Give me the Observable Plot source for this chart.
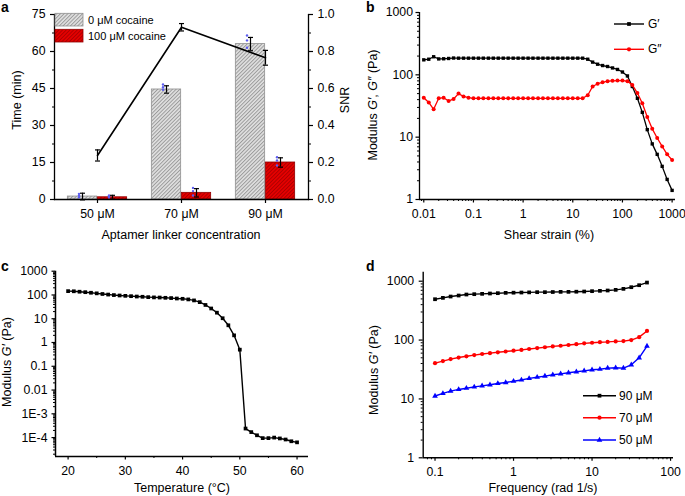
<!DOCTYPE html>
<html><head><meta charset="utf-8">
<script src="https://cdn.jsdelivr.net/npm/d3@7"></script>
<script src="https://cdn.jsdelivr.net/npm/@observablehq/plot@0.6"></script>
<style>
body{margin:0;background:#fff;}
#root{position:relative;width:685px;height:496px;overflow:hidden;background:#fff;}
</style></head><body><div id="root"></div>
<script>
// ---------------- DATA ----------------
// Panel a
const concentrations = ["50 μM", "70 μM", "90 μM"];
const cocaineGroups = ["0 μM cocaine", "100 μM cocaine"];
const timeNoCocaine = [1.2, 44.6, 63.0];
const timeNoCocaineErr = [1.35, 1.5, 2.7];
const timeCocaine = [0.9, 2.7, 15.0];
const timeCocaineErr = [0.8, 1.7, 1.9];
const dotsNoCocaine = [[2.3, 1.6, 0.9], [46.6, 45.5, 44.5], [66.5, 64.5, 61.5]];
const dotsCocaine = [[1.6, 1.2, 0.8], [4.7, 3.4, 1.6], [17.1, 15.8, 13.8]];
const snr = [0.238, 0.931, 0.766];
const snrErr = [0.03, 0.02, 0.04];
const aYTicks = [0, 15, 30, 45, 60, 75];
const aYMinor = [7.5, 22.5, 37.5, 52.5, 67.5];
const snrTicks = [0, 0.2, 0.4, 0.6, 0.8, 1.0];
const snrMinor = [0.1, 0.3, 0.5, 0.7, 0.9];

// Panel b
const strain = [0.01,0.0126,0.0158,0.02,0.0251,0.0316,0.0398,0.0501,0.0631,0.0794,
  0.1,0.126,0.158,0.2,0.251,0.316,0.398,0.501,0.631,0.794,
  1,1.26,1.58,2,2.51,3.16,3.98,5.01,6.31,7.94,
  10,12.6,15.8,20,25.1,31.6,39.8,50.1,63.1,79.4,
  100,126,158,200,251,316,398,501,631,794,1000];
const gPrime = [174,178,195,180,181,183,186,185,185,185,
  185,185,185,185,185,185,185,185,185,185,
  185,185,185,185,185,185,185,185,185,185,
  185,185,185,178,160,148,141,136,129,122,
  111,96,65,42,25,13.2,7.8,5.3,3.4,2.1,1.4];
const gDoublePrime = [43,36,28,42,43,38,41,50,45,43,
  42,42,42,42,42,42,42,42,42,42,
  42,42,42,42,42,42,42,42,42,42,
  42,42,42,47,65,72,76,79,80,81,
  81,79,69,51,35,21,13.6,9.7,7.1,5.3,4.3];
const bXTicks = [0.01, 0.1, 1, 10, 100, 1000];
const bYTicks = [1, 10, 100, 1000];

// Panel c
const temperature = [20,21,22,23,24,25,26,27,28,29,30,31,32,33,34,35,36,37,38,39,40,
  41,42,43,44,45,46,47,48,49,50,51,52,53,54,55,56,57,58,59,60];
const gPrimeTemp = [145,143,137,131,124,117,110,104,99,95,92,89,86,84,81,79,78,76,74,71,69,
  65,59,50,38,27,18,10.5,5.3,2.0,0.5,2.4e-4,1.7e-4,1.25e-4,9.5e-5,9.5e-5,1.0e-4,9.2e-5,8.3e-5,7.0e-5,6.3e-5];
const cXTicks = [20, 30, 40, 50, 60];
const cXMinor = [25, 35, 45, 55];
const cYTicks = [1e-4, 1e-3, 0.01, 0.1, 1, 10, 100, 1000];
const cYTickLabels = ["1E-4", "1E-3", "0.01", "0.1", "1", "10", "100", "1000"];

// Panel d
const frequency = [0.1,0.126,0.158,0.2,0.251,0.316,0.398,0.501,0.631,0.794,
  1,1.26,1.58,2,2.51,3.16,3.98,5.01,6.31,7.94,
  10,12.6,15.8,20,25.1,31.6,39.8,50.1];
const g90 = [494,521,549,571,594,602,610,618,626,634,638,642,646,651,651,655,659,659,663,668,677,686,695,713,741,791,855,948];
const g70 = [40.5,44,47.5,50.5,53,55.5,58,60,62,64,66,68,70.5,73,75.5,78,80,82.5,85,88,90,92,93,95,96,100,112,143];
const g50 = [11.2,12.4,13.6,14.5,15.2,16,16.7,17.4,18.3,19,20,21,22.3,23.4,24.4,25.7,26.7,27.8,28.9,30,31.3,32,33.4,33.8,33.4,38,50,79];
const dSeries = ["90 μM", "70 μM", "50 μM"];
const dXTicks = [0.1, 1, 10, 100];
const dYTicks = [1, 10, 100, 1000];

// ---------------- STYLE ----------------
const FONT = '"Liberation Sans", Arial, Helvetica, sans-serif';
const root = document.getElementById("root");
const baseStyle = {fontFamily: FONT, fontSize: "12.3px", background: "transparent", color: "#000", overflow: "visible"};
const RED = "#ff0000", BLUE = "#0000ff";
function logMinor(lo, hi, dmin, dmax) {
  const out = [];
  for (let e = lo; e <= hi; e++) for (let k = 2; k < 10; k++) { const v = k * Math.pow(10, e); if (v >= dmin && v <= dmax) out.push(v); }
  return out;
}
function mount(svg, left, top) {
  svg.style.position = "absolute"; svg.style.left = left + "px"; svg.style.top = top + "px";
  root.appendChild(svg); return svg;
}
const capSymbol = {draw(ctx, size) { const r = Math.sqrt(size / Math.PI); ctx.moveTo(-r, 0); ctx.lineTo(r, 0); }};
const fmt = d3.format("~g");
function labelFrom(ticks, labels) {
  return d => {
    const k = ticks.findIndex(t => Math.abs(Math.log10(t) - Math.log10(d)) < 1e-6);
    return k >= 0 ? labels[k] : "";
  };
}

// ---------------- PANEL A ----------------
const A = {width: 342, height: 248, mL: 54, mR: 34, mT: 14, mB: 49};
const bw = (A.width - A.mL - A.mR) / concentrations.length;
const barW = 30;
const aRows0 = concentrations.map((c, i) => ({conc: c, time: timeNoCocaine[i], err: timeNoCocaineErr[i]}));
const aRows1 = concentrations.map((c, i) => ({conc: c, time: timeCocaine[i], err: timeCocaineErr[i]}));
const aDots0 = concentrations.flatMap((c, i) => dotsNoCocaine[i].map(v => ({conc: c, v})));
const aDots1 = concentrations.flatMap((c, i) => dotsCocaine[i].map(v => ({conc: c, v})));
const snrRows = concentrations.map((c, i) => ({conc: c, snr: snr[i], err: snrErr[i]}));

function errMarks(rows, yKey, dx) {
  return [
    Plot.ruleX(rows, {x: "conc", y1: d => d[yKey] - d.err, y2: d => d[yKey] + d.err, dx, stroke: "black", strokeWidth: 1.2}),
    Plot.dot(rows, {x: "conc", y: d => d[yKey] - d.err, symbol: capSymbol, r: 2.5, stroke: "black", fill: "none", strokeWidth: 1.2, dx}),
    Plot.dot(rows, {x: "conc", y: d => d[yKey] + d.err, symbol: capSymbol, r: 2.5, stroke: "black", fill: "none", strokeWidth: 1.2, dx})
  ];
}

const svgA1 = Plot.plot({
  width: A.width, height: A.height, marginLeft: A.mL, marginRight: A.mR, marginTop: A.mT, marginBottom: A.mB,
  style: baseStyle,
  x: {type: "band", domain: concentrations, padding: 0},
  y: {domain: [0, 75]},
  marks: [
    Plot.barY(aRows0, {x: "conc", y: "time", fill: "url(#hatchGray)", stroke: "#8f8f8f", strokeWidth: 0.8, insetLeft: bw / 2 - barW, insetRight: bw / 2}),
    Plot.barY(aRows1, {x: "conc", y: "time", fill: "url(#hatchRed)", stroke: "#900000", strokeWidth: 0.8, insetLeft: bw / 2, insetRight: bw / 2 - barW}),
    Plot.dot(aDots0, {x: "conc", y: "v", r: 1.2, fill: "#5c5cf0", dx: -barW / 2 - 3.5}),
    Plot.dot(aDots1, {x: "conc", y: "v", r: 1.2, fill: "#5c5cf0", dx: barW / 2 - 3.5}),
    ...errMarks(aRows0, "time", -barW / 2),
    ...errMarks(aRows1, "time", barW / 2),
    Plot.axisY({ticks: aYTicks, tickSize: 4, tickPadding: 5, label: null, strokeWidth: 1.2}),
    Plot.axisY({ticks: aYMinor, tickSize: 2, tickFormat: () => "", label: null, strokeWidth: 1.2}),
    Plot.axisX({tickSize: 4, tickPadding: 6, label: null, strokeWidth: 1.2}),
    Plot.frame({anchor: "left", strokeWidth: 1.3}),
    Plot.frame({anchor: "bottom", strokeWidth: 1.3})
  ]
});
d3.select(svgA1).insert("defs", ":first-child").html(`
  <pattern id="hatchGray" patternUnits="userSpaceOnUse" width="2.6" height="2.6" patternTransform="rotate(45)">
    <rect width="2.6" height="2.6" fill="#e0e0e0"></rect>
    <line x1="0.5" y1="0" x2="0.5" y2="2.6" stroke="#959595" stroke-width="0.9"></line>
  </pattern>
  <pattern id="hatchRed" patternUnits="userSpaceOnUse" width="2.6" height="2.6" patternTransform="rotate(45)">
    <rect width="2.6" height="2.6" fill="#e60000"></rect>
    <line x1="0.5" y1="0" x2="0.5" y2="2.6" stroke="#a00000" stroke-width="0.8"></line>
  </pattern>`);
mount(svgA1, 0, 0);

const svgA2 = Plot.plot({
  width: A.width, height: A.height, marginLeft: A.mL, marginRight: A.mR, marginTop: A.mT, marginBottom: A.mB,
  style: baseStyle,
  x: {type: "band", domain: concentrations, padding: 0, axis: null},
  y: {domain: [0, 1]},
  marks: [
    Plot.line(snrRows, {x: "conc", y: "snr", stroke: "black", strokeWidth: 1.6}),
    ...errMarks(snrRows, "snr", 0),
    Plot.axisY({anchor: "right", ticks: snrTicks, tickFormat: d3.format(".1f"), tickSize: 4, tickPadding: 5, label: null, strokeWidth: 1.2}),
    Plot.axisY({anchor: "right", ticks: snrMinor, tickSize: 2, tickFormat: () => "", label: null, strokeWidth: 1.2}),
    Plot.frame({anchor: "right", strokeWidth: 1.3})
  ]
});
mount(svgA2, 0, 0);

// ---------------- PANEL B ----------------
const bRows = strain.map((s, i) => ({strain: s, gp: gPrime[i], gpp: gDoublePrime[i]}));
const bXDom = [0.0082, 1170], bYDom = [1, 1000];
const svgB = Plot.plot({
  width: 343, height: 248, marginLeft: 77, marginRight: 10, marginTop: 12, marginBottom: 49,
  style: baseStyle,
  x: {type: "log", domain: bXDom},
  y: {type: "log", domain: bYDom},
  marks: [
    Plot.line(bRows, {x: "strain", y: "gp", stroke: "black", strokeWidth: 1.3}),
    Plot.dot(bRows, {x: "strain", y: "gp", symbol: "square", r: 1.9, fill: "black"}),
    Plot.line(bRows, {x: "strain", y: "gpp", stroke: RED, strokeWidth: 1.3}),
    Plot.dot(bRows, {x: "strain", y: "gpp", r: 2, fill: RED}),
    Plot.axisX({ticks: bXTicks, tickFormat: fmt, tickSize: 3.5, tickPadding: 6, label: null, strokeWidth: 1.2}),
    Plot.axisX({ticks: logMinor(-3, 3, bXDom[0], bXDom[1]), tickSize: 2, tickFormat: () => "", label: null}),
    Plot.axisY({ticks: bYTicks, tickFormat: fmt, tickSize: 3.5, tickPadding: 3, label: null, strokeWidth: 1.2}),
    Plot.axisY({ticks: logMinor(0, 2, bYDom[0], bYDom[1]), tickSize: 2, tickFormat: () => "", label: null}),
    Plot.ruleX([bXDom[0]], {strokeWidth: 1.3}),
    Plot.ruleY([bYDom[0]], {strokeWidth: 1.3})
  ]
});
mount(svgB, 342, 0);

// ---------------- PANEL C ----------------
const cRows = temperature.map((t, i) => ({t, g: gPrimeTemp[i]}));
const cXDom = [17.8, 62], cYDom = [1.6e-5, 1000];
const svgC = Plot.plot({
  width: 342, height: 248, marginLeft: 55, marginRight: 34, marginTop: 22.7, marginBottom: 40,
  style: baseStyle,
  x: {domain: cXDom},
  y: {type: "log", domain: cYDom},
  marks: [
    Plot.line(cRows, {x: "t", y: "g", stroke: "black", strokeWidth: 1.4}),
    Plot.dot(cRows, {x: "t", y: "g", symbol: "square", r: 2.1, fill: "black"}),
    Plot.axisX({ticks: cXTicks, tickSize: 3.5, tickPadding: 6, label: null, strokeWidth: 1.2}),
    Plot.axisX({ticks: cXMinor, tickSize: 2, tickFormat: () => "", label: null}),
    Plot.axisY({ticks: cYTicks, tickFormat: labelFrom(cYTicks, cYTickLabels), tickSize: 3.5, tickPadding: 4.5, label: null, strokeWidth: 1.2}),
    Plot.axisY({ticks: logMinor(-5, 2, cYDom[0], cYDom[1]), tickSize: 2, tickFormat: () => "", label: null}),
    Plot.ruleX([cXDom[0]], {strokeWidth: 1.5}),
    Plot.ruleY([cYDom[0]], {strokeWidth: 1.3})
  ]
});
mount(svgC, 0, 248);

// ---------------- PANEL D ----------------
const dRows = frequency.flatMap((f, i) => [
  {f, g: g90[i], s: dSeries[0]}, {f, g: g70[i], s: dSeries[1]}, {f, g: g50[i], s: dSeries[2]}]);
const dXDom = [0.0707, 109], dYDom = [1, 1422];
const dColors = ["black", RED, BLUE];
const dSymbols = ["square", "circle", "triangle"];
const svgD = Plot.plot({
  width: 343, height: 248, marginLeft: 80.7, marginRight: 12, marginTop: 23.7, marginBottom: 38.7,
  style: baseStyle,
  x: {type: "log", domain: dXDom},
  y: {type: "log", domain: dYDom},
  color: {domain: dSeries, range: dColors},
  symbol: {domain: dSeries, range: dSymbols},
  marks: [
    Plot.line(dRows, {x: "f", y: "g", z: "s", stroke: "s", strokeWidth: 1.4}),
    Plot.dot(dRows, {x: "f", y: "g", fill: "s", symbol: "s", r: 2.1}),
    Plot.axisX({ticks: dXTicks, tickFormat: fmt, tickSize: 3.5, tickPadding: 6, label: null, strokeWidth: 1.2}),
    Plot.axisX({ticks: logMinor(-2, 2, dXDom[0], dXDom[1]), tickSize: 2, tickFormat: () => "", label: null}),
    Plot.axisY({ticks: dYTicks, tickFormat: fmt, tickSize: 4, tickPadding: 5, label: null, strokeWidth: 1.2}),
    Plot.axisY({ticks: logMinor(0, 3, dYDom[0], dYDom[1]), tickSize: 2, tickFormat: () => "", label: null}),
    Plot.ruleX([dXDom[0]], {strokeWidth: 1.4}),
    Plot.ruleY([dYDom[0]], {strokeWidth: 1.4})
  ]
});
mount(svgD, 342, 248);

// ---------------- TEXT OVERLAY (titles, labels, legends) ----------------
const ov = d3.select(root).append("svg")
  .attr("width", 685).attr("height", 496)
  .style("position", "absolute").style("left", "0px").style("top", "0px")
  .style("font-family", FONT).style("font-size", "12.5px");

function letter(x, y, s) {
  ov.append("text").attr("x", x).attr("y", y).attr("font-weight", "bold").attr("font-size", 14).text(s);
}
letter(1, 12, "a"); letter(366, 12, "b"); letter(1, 271, "c"); letter(366, 271, "d");

function xTitle(x, y, s) { ov.append("text").attr("x", x).attr("y", y).attr("text-anchor", "middle").text(s); }
xTitle(181, 239, "Aptamer linker concentration");
xTitle(549, 239, "Shear strain (%)");
xTitle(182, 492, "Temperature (°C)");
xTitle(543, 492, "Frequency (rad 1/s)");

function yTitle(x, y, parts) {
  const t = ov.append("text").attr("transform", `translate(${x},${y}) rotate(-90)`)
    .attr("text-anchor", "middle").attr("dominant-baseline", "central");
  parts.forEach(([s, it]) => t.append("tspan").attr("font-style", it ? "italic" : null).text(s));
}
yTitle(17, 100, [["Time (min)"]]);
yTitle(345, 100, [["SNR"]]);
yTitle(373, 105, [["Modulus "], ["G′", 1], [", "], ["G″", 1], [" (Pa)"]]);
yTitle(7, 362, [["Modulus "], ["G′", 1], [" (Pa)"]]);
yTitle(374, 370, [["Modulus "], ["G′", 1], [" (Pa)"]]);

// legend a
const legA = [["url(#hatchGray)", "#8f8f8f", cocaineGroups[0], 13.3], ["url(#hatchRed)", "#900000", cocaineGroups[1], 29.3]];
legA.forEach(([fill, stroke, label, y]) => {
  ov.append("rect").attr("x", 55).attr("y", y).attr("width", 28).attr("height", 12.7).attr("fill", fill).attr("stroke", stroke).attr("stroke-width", 0.8);
  ov.append("text").attr("x", 88).attr("y", y + 6.5).attr("dominant-baseline", "central").attr("font-size", 11).text(label);
});

// legend b
function legLine(x1, x2, y, color, sym, label, tx) {
  ov.append("line").attr("x1", x1).attr("x2", x2).attr("y1", y).attr("y2", y).attr("stroke", color).attr("stroke-width", 1.4);
  const st = {square: d3.symbolSquare, circle: d3.symbolCircle, triangle: d3.symbolTriangle}[sym];
  ov.append("path").attr("d", d3.symbol(st, 14)()).attr("transform", `translate(${(x1 + x2) / 2},${y})`).attr("fill", color);
  ov.append("text").attr("x", tx).attr("y", y).attr("dominant-baseline", "central").attr("font-size", 12).text(label);
}
legLine(614, 644, 24, "black", "square", "G′", 648);
legLine(614, 644, 49.3, RED, "circle", "G″", 648);
// legend d
legLine(583, 616, 395.7, dColors[0], dSymbols[0], dSeries[0], 619);
legLine(583, 616, 417.7, dColors[1], dSymbols[1], dSeries[1], 619);
legLine(583, 616, 440, dColors[2], dSymbols[2], dSeries[2], 619);
</script></body></html>
